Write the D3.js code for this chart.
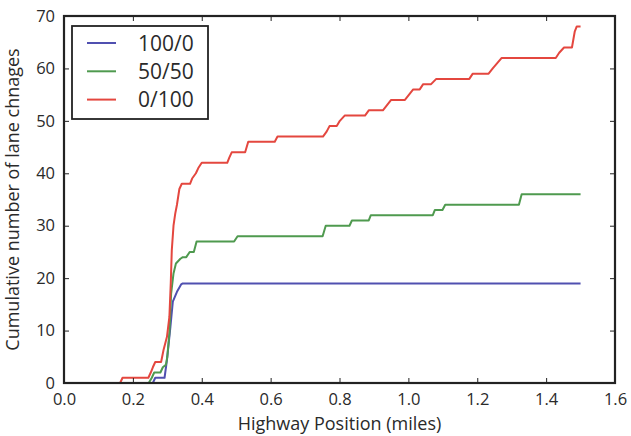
<!DOCTYPE html>
<html>
<head>
<meta charset="utf-8">
<script src="https://cdn.jsdelivr.net/npm/d3@7"></script>
<style>
  html, body { margin: 0; padding: 0; background: #fff; }
  svg { display: block; }
  text { font-family: "Open Sans", "DejaVu Sans", sans-serif; fill: #2a2a2a; }
</style>
</head>
<body>
<svg id="chart" width="631" height="436"></svg>
<script>
// ---- data (x in miles, y cumulative lane changes) ----
const seriesNames = ["100/0", "50/50", "0/100"];
const xTicks = [0.0, 0.2, 0.4, 0.6, 0.8, 1.0, 1.2, 1.4, 1.6];
const yTicks = [0, 10, 20, 30, 40, 50, 60, 70];

const blue = [[0,0],[0.258,0],[0.265,1],[0.292,1],[0.299,4.4],[0.309,10.7],[0.316,15.5],[0.328,17.4],[0.340,18.8],[0.345,19],[1.5,19]];

const green = [[0,0],[0.246,0],[0.255,1],[0.262,2],[0.280,2],[0.287,3],[0.296,3.5],[0.300,5],[0.306,9.5],[0.311,17],[0.318,20.9],[0.325,22.8],[0.338,23.7],[0.345,24],[0.355,24],[0.365,25],[0.377,25],[0.385,27],[0.494,27],[0.504,28],[0.751,28],[0.760,30],[0.829,30],[0.836,31],[0.885,31],[0.891,32],[1.071,32],[1.077,33],[1.099,33],[1.107,34],[1.321,34],[1.329,36],[1.5,36]];

const red = [[0,0],[0.163,0],[0.170,1],[0.245,1],[0.252,2],[0.258,3],[0.265,4],[0.282,4],[0.289,6.3],[0.299,8.8],[0.306,12.6],[0.310,19],[0.313,25.3],[0.318,30],[0.323,32.3],[0.328,34],[0.335,37],[0.342,38],[0.366,38],[0.372,39],[0.383,40],[0.390,41],[0.400,42],[0.474,42],[0.480,43],[0.487,44],[0.526,44],[0.535,46],[0.612,46],[0.620,47],[0.752,47],[0.763,48],[0.771,49],[0.792,49],[0.801,50],[0.815,51],[0.874,51],[0.885,52],[0.926,52],[0.938,53],[0.950,54],[0.990,54],[1.002,55],[1.014,56],[1.033,56],[1.043,57],[1.066,57],[1.081,58],[1.177,58],[1.187,59],[1.233,59],[1.245,60],[1.258,61],[1.271,62],[1.428,62],[1.438,63],[1.452,64],[1.475,64],[1.483,67],[1.489,68],[1.5,68]];

const colors = ["#5050b0", "#4f9a4f", "#e4473f"];
const allSeries = [blue, green, red];

// ---- layout ----
const W = 631, H = 436;
const m = {left: 64, right: 16, top: 16, bottom: 53};
const svg = d3.select("#chart");
const x = d3.scaleLinear().domain([0, 1.6]).range([m.left, W - m.right]);
const y = d3.scaleLinear().domain([0, 70]).range([H - m.bottom, m.top]);

svg.append("clipPath").attr("id", "clip")
  .append("rect").attr("x", m.left).attr("y", m.top)
  .attr("width", W - m.left - m.right).attr("height", H - m.top - m.bottom);

const line = d3.line().x(d => x(d[0])).y(d => y(d[1]));
const g = svg.append("g").attr("clip-path", "url(#clip)");
allSeries.forEach((s, i) => {
  g.append("path").datum(s).attr("d", line)
    .attr("fill", "none").attr("stroke", colors[i])
    .attr("stroke-width", 2).attr("stroke-linejoin", "round");
});

// ---- axes (ticks inside, all four sides) ----
const tl = 5;
const axisColor = "#222";
const fmtX = d3.format(".1f");
const tickFont = 16.5;
svg.append("g").attr("transform", `translate(0,${H - m.bottom})`)
  .call(d3.axisBottom(x).tickValues(xTicks).tickFormat(fmtX).tickSizeInner(-tl).tickSizeOuter(0).tickPadding(10))
  .call(a => a.select(".domain").remove())
  .call(a => a.selectAll("line").attr("stroke", axisColor))
  .call(a => a.selectAll("text").attr("font-size", tickFont).attr("fill", "#2a2a2a").style("font-family", '"Open Sans", sans-serif'));
svg.append("g").attr("transform", `translate(0,${m.top})`)
  .call(d3.axisTop(x).tickValues(xTicks).tickFormat("").tickSizeInner(-tl).tickSizeOuter(0))
  .call(a => a.select(".domain").remove())
  .call(a => a.selectAll("line").attr("stroke", axisColor));
svg.append("g").attr("transform", `translate(${m.left},0)`)
  .call(d3.axisLeft(y).tickValues(yTicks).tickSizeInner(-tl).tickSizeOuter(0).tickPadding(9))
  .call(a => a.select(".domain").remove())
  .call(a => a.selectAll("line").attr("stroke", axisColor))
  .call(a => a.selectAll("text").attr("font-size", tickFont).attr("fill", "#2a2a2a").style("font-family", '"Open Sans", sans-serif'));
svg.append("g").attr("transform", `translate(${W - m.right},0)`)
  .call(d3.axisRight(y).tickValues(yTicks).tickFormat("").tickSizeInner(-tl).tickSizeOuter(0))
  .call(a => a.select(".domain").remove())
  .call(a => a.selectAll("line").attr("stroke", axisColor));

svg.append("rect").attr("x", m.left).attr("y", m.top)
  .attr("width", W - m.left - m.right).attr("height", H - m.top - m.bottom)
  .attr("fill", "none").attr("stroke", axisColor).attr("stroke-width", 2.2);

// axis titles
svg.append("text").attr("x", (m.left + W - m.right) / 2).attr("y", 430)
  .attr("text-anchor", "middle").attr("font-size", 18).text("Highway Position (miles)");
svg.append("text").attr("transform", `translate(19,${(m.top + H - m.bottom) / 2}) rotate(-90)`)
  .attr("text-anchor", "middle").attr("font-size", 18).text("Cumulative number of lane chnages");

// ---- legend ----
const lg = svg.append("g");
lg.append("rect").attr("x", 72).attr("y", 26).attr("width", 136).attr("height", 93)
  .attr("fill", "#fff").attr("stroke", axisColor).attr("stroke-width", 1.8);
seriesNames.forEach((n, i) => {
  const yy = 43 + i * 28.3;
  lg.append("line").attr("x1", 87).attr("x2", 116).attr("y1", yy).attr("y2", yy)
    .attr("stroke", colors[i]).attr("stroke-width", 2);
  lg.append("text").attr("x", 138).attr("y", yy).attr("dy", "0.36em")
    .attr("font-size", 21).text(n);
});
</script>
</body>
</html>
